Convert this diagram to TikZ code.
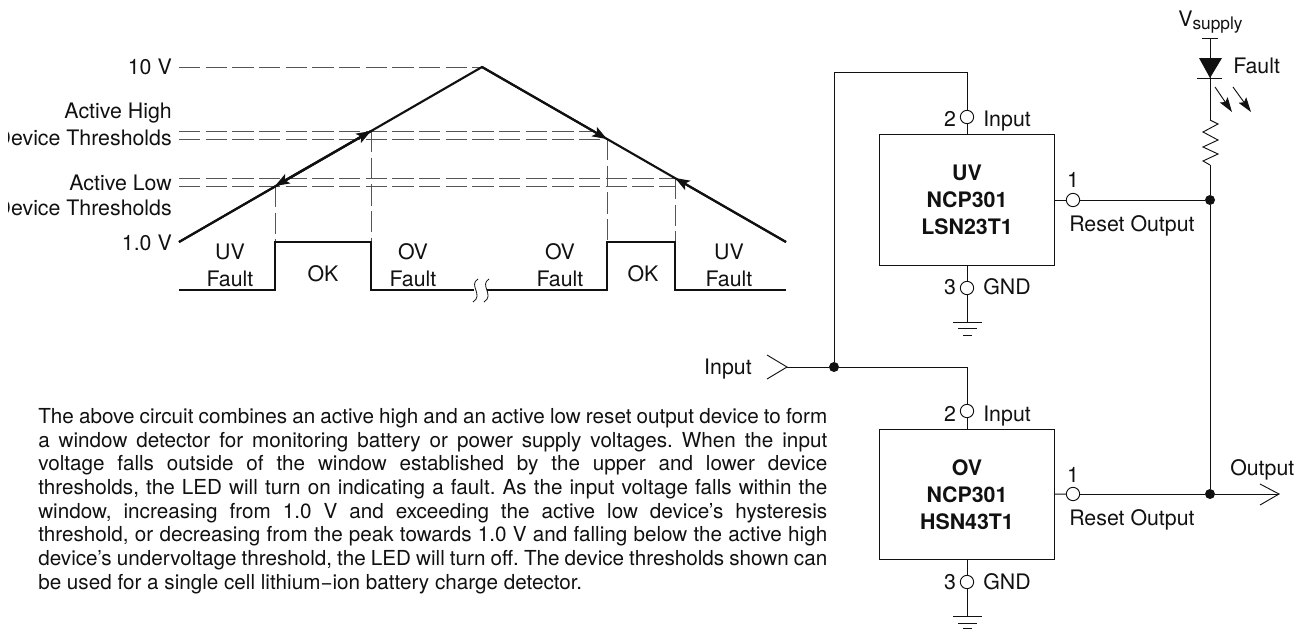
\documentclass[tikz,border=0pt]{standalone}
\usepackage{xcolor}
\usepackage{fontspec}
\setmainfont{TeX Gyre Heros}
\usepackage{tikz}
\usetikzlibrary{arrows.meta}
\definecolor{ink}{HTML}{111111}
\definecolor{muted}{HTML}{555555}
\tikzset{
  every node/.style={text=ink},
  lab/.style={inner sep=0pt, font=\fontsize{16}{18}\selectfont, text height=11.5pt, text depth=0pt},
  labbox/.style={draw=ink, line width=0.7pt, minimum width=131.25pt, minimum height=98pt, align=center, inner sep=0pt,
    font=\fontsize{16}{20.3}\selectfont\bfseries},
  para/.style={inner sep=0pt, align=justify, text width=591.75pt, font=\fontsize{15.5}{17.78}\selectfont\frenchspacing},
  pin/.style={circle, draw=ink, fill=white, line width=0.7pt, minimum size=10pt, inner sep=0pt},
  dot/.style={circle, fill=ink, minimum size=7.5pt, inner sep=0pt},
  wire/.style={draw=ink, line width=0.7pt},
  wave/.style={draw=ink, line width=1.6pt},
  aux/.style={draw=muted, line width=0.7pt, dash pattern=on 16pt off 4pt},
  tipped/.style={wave, -{Stealth[length=11pt,width=8pt,inset=2.5pt]}},
  glow/.style={wire, -{Stealth[length=11pt,width=7pt,inset=2pt]}}
}

\begin{document}
\begin{tikzpicture}[x=0.75pt,y=-0.75pt]
  \useasboundingbox (0,0) rectangle (1304,629);

  % waveform
  \coordinate (w0) at (179,242);
  \coordinate (peak) at (482,67);
  \coordinate (w1) at (786,242);
  \coordinate (up) at (371,131);
  \coordinate (upl) at (275,186);
  \coordinate (dn) at (607,139);
  \coordinate (dnl) at (675,178);

  \draw[aux] (w0|-peak) -- (peak);
  \draw[aux] (w0|-up) -- (593,131);
  \draw[aux] (179,139) -- (dn);
  \draw[aux] (179,178) -- (dnl);
  \draw[aux] (179,186) -- (675,186);
  \draw[aux] (upl) -- (upl|-w0);
  \draw[aux] (up) -- (up|-w0);
  \draw[aux] (dn) -- (dn|-w0);
  \draw[aux] (dnl) -- (dnl|-w0);

  \draw[wave] (w0) -- (peak) -- (w1);
  \draw[tipped] (w0) -- (up);
  \draw[tipped] (up) -- (upl);
  \draw[tipped] (peak) -- (dn);
  \draw[tipped] (w1) -- (dnl);

  \draw[wave] (179,290) -- (275,290) -- (275,242) -- (371,242) -- (371,290) -- (474,290);
  \draw[wave] (487,290) -- (607,290) -- (607,242) -- (675,242) -- (675,290) -- (786,290);
  \draw[wire, line width=0.6pt] (478,279) .. controls (468,285) and (484,295) .. (473,302);
  \draw[wire, line width=0.6pt] (489,279) .. controls (479,285) and (495,295) .. (484,302);

  \node[lab, anchor=east] (lab10) at (172,67) {10 V};
  \node[lab, anchor=east] (labhi) at (172,111) {Active High};
  \node[lab, anchor=east] (labhid) at (172,138) {Device Thresholds};
  \node[lab, anchor=east] (lablo) at (172,183) {Active Low};
  \node[lab, anchor=east] (labliod) at (172,208) {Device Thresholds};
  \node[lab, anchor=east] (lab1) at (172,243) {1.0 V};
  \fill[white] (-5,120) rectangle (8,220);

  \node[lab] (uva) at (230,252) {UV};
  \node[lab] (fa) at (230,279) {Fault};
  \node[lab] (oka) at (323,274) {OK};
  \node[lab] (ovb) at (413,252) {OV};
  \node[lab] (fb) at (413,279) {Fault};
  \node[lab] (ovc) at (560,252) {OV};
  \node[lab] (fc) at (560,279) {Fault};
  \node[lab] (okb) at (643,274) {OK};
  \node[lab] (uvd) at (729,252) {UV};
  \node[lab] (fd) at (729,279) {Fault};

  % paragraph
  \node[para, anchor=north west] (txt) at (38,408) {The above circuit combines an active high and an active low reset output device to form\linebreak
    a window detector for monitoring battery or power supply voltages. When the input\linebreak
    voltage falls outside of the window established by the upper and lower device\linebreak
    thresholds, the LED will turn on indicating a fault. As the input voltage falls within the\linebreak
    window, increasing from 1.0 V and exceeding the active low device’s hysteresis\linebreak
    threshold, or decreasing from the peak towards 1.0 V and falling below the active high\linebreak
    device’s undervoltage threshold, the LED will turn off. The device thresholds shown can\linebreak
    be used for a single cell lithium−ion battery charge detector.};

  % devices
  \node[labbox] (devUV) at (967,200) {UV\\NCP301\\LSN23T1};
  \node[labbox] (devOV) at (967,494.5) {OV\\NCP301\\HSN43T1};

  \node[pin] (uvin) at (967,117) {};
  \node[pin] (uvgnd) at (967,288) {};
  \node[pin] (uvout) at (1073,200) {};
  \node[pin] (ovin) at (967,411) {};
  \node[pin] (ovgnd) at (967,582) {};
  \node[pin] (ovout) at (1073,494) {};

  \node[dot] (jin) at (834,367) {};
  \node[dot] (jled) at (1210,200) {};
  \node[dot] (jout) at (1210,494) {};

  \coordinate (top) at (834,72);
  \coordinate (inport) at (787,367);
  \coordinate (outport) at (1279,494);
  \coordinate (gnduv) at (967,322);
  \coordinate (gndov) at (967,616);
  \coordinate (vcc) at (1210,38);
  \coordinate (r0) at (1210,120);
  \coordinate (r1) at (1210,165);

  \draw[wire] (inport) -- (jin);
  \draw[wire] (jin) -- (top) -| (uvin);
  \draw[wire] (uvin) -- (devUV);
  \draw[wire] (jin) -| (ovin);
  \draw[wire] (ovin) -- (devOV);
  \draw[wire] (devUV) -- (uvgnd);
  \draw[wire] (uvgnd) -- (gnduv);
  \draw[wire] (devOV) -- (ovgnd);
  \draw[wire] (ovgnd) -- (gndov);
  \draw[wire] (devUV) -- (uvout);
  \draw[wire] (uvout) -- (jled);
  \draw[wire] (devOV) -- (ovout);
  \draw[wire] (ovout) -- (jout);
  \draw[wire] (jout) -- (outport);
  \draw[wire] (jled) -- (jout);
  \draw[wire] (jled) -- (r1);
  \draw[wire] (vcc) -- (r0);

  % open ends
  \draw[wire] (767,355) -- (inport) -- (767,379);
  \draw[wire] (1260,484) -- (outport) -- (1260,505);

  % ground bars
  \draw[wire] (953,322) -- (982,322);
  \draw[wire] (958,328) -- (977,328);
  \draw[wire] (963,335) -- (972,335);
  \draw[wire] (953,616) -- (982,616);
  \draw[wire] (958,623) -- (977,623);
  \draw[wire] (963,628.5) -- (972,628.5);

  % led and resistor
  \draw[wire] (1202,38) -- (1218,38);
  \fill[ink] (1199,58) -- (1222,58) -- (1210,78) -- cycle;
  \draw[wire] (1197,78.5) -- (1222,78.5);
  \draw[glow] (1215,87) -- (1232,112);
  \draw[glow] (1233,87) -- (1251,112);
  \draw[wire] (r0) -- (1218,124) -- (1203,132) -- (1218,140) -- (1203,147) -- (1218,154) -- (1203,161) -- (r1);

  \node[lab, anchor=base west] (vs) at (1178,26) {V\raisebox{-2.25pt}{\fontsize{13}{13}\selectfont supply}};
  \node[lab, anchor=west] (lfault) at (1233,66) {Fault};

  \node[lab] (n2a) at (950,119) {2};
  \node[lab, anchor=west] (ina) at (983,119) {Input};
  \node[lab] (n3a) at (950,287) {3};
  \node[lab, anchor=west] (gnda) at (983,287) {GND};
  \node[lab] (n1a) at (1073,180) {1};
  \node[lab, anchor=west] (roa) at (1069,224) {Reset Output};

  \node[lab] (n2b) at (950,414) {2};
  \node[lab, anchor=west] (inb) at (983,414) {Input};
  \node[lab] (n3b) at (950,582) {3};
  \node[lab, anchor=west] (gndb) at (983,582) {GND};
  \node[lab] (n1b) at (1073,475) {1};
  \node[lab, anchor=west] (rob) at (1069,518) {Reset Output};

  \node[lab, anchor=east] (lin) at (752,367) {Input};
  \node[lab, anchor=west] (lout) at (1230,468) {Output};
\end{tikzpicture}
\end{document}
